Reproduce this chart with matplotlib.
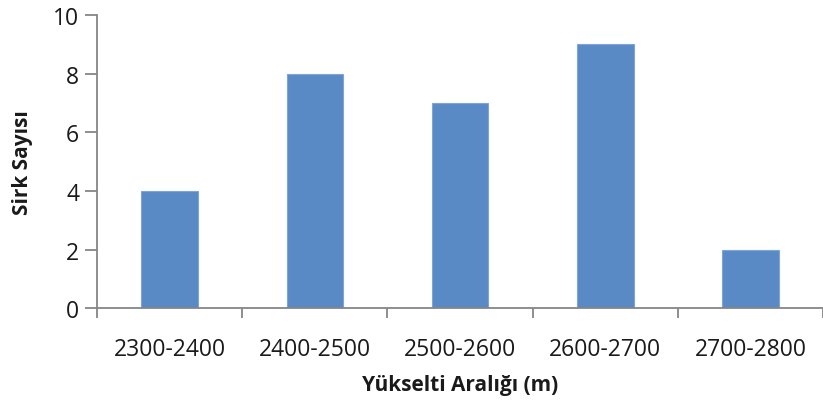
import matplotlib
matplotlib.use("Agg")
import matplotlib.pyplot as plt
import numpy as np

# elevation ranges and number of cirques in each
ranges = ["2300-2400", "2400-2500", "2500-2600", "2600-2700", "2700-2800"]
counts = [4, 8, 7, 9, 2]

plt.rcParams['font.family'] = ['Open Sans', 'DejaVu Sans']

fig = plt.figure(figsize=(8.23, 4.02), dpi=100)
ax = fig.add_axes([0.118, 0.231, 0.882, 0.729])

x = np.arange(len(ranges))
ax.bar(x, counts, width=0.39, color='#5A8AC6', edgecolor='#7FA5D6', linewidth=0.8, zorder=2)

ax.set_xlim(-0.5, len(ranges) - 0.5)
ax.set_ylim(0, 10)
ax.set_yticks(np.arange(0, 11, 2))

# category labels sit between boundary ticks
ax.set_xticks(np.arange(-0.5, len(ranges), 1.0))
ax.set_xticklabels([])
ax.set_xticks(x, minor=True)
ax.set_xticklabels(ranges, minor=True)
ax.tick_params(axis='x', which='minor', length=0, pad=21, labelsize=16.5, labelcolor='#1a1a1a')
ax.tick_params(axis='x', which='major', length=7, width=1.3, color='#868686')
ax.tick_params(axis='y', length=9, width=1.3, color='#868686', pad=4, labelsize=16.5, labelcolor='#1a1a1a')

for side in ['top', 'right']:
    ax.spines[side].set_visible(False)
for side in ['left', 'bottom']:
    ax.spines[side].set_color('#868686')
    ax.spines[side].set_linewidth(1.3)

ax.set_xlabel('Yükselti Aralığı (m)', fontsize=15, fontweight='bold', labelpad=9, color='#1a1a1a')
ax.set_ylabel('Sirk Sayısı', fontsize=15, fontweight='bold', labelpad=14, color='#1a1a1a')

fig.savefig('out.png', dpi=100)
